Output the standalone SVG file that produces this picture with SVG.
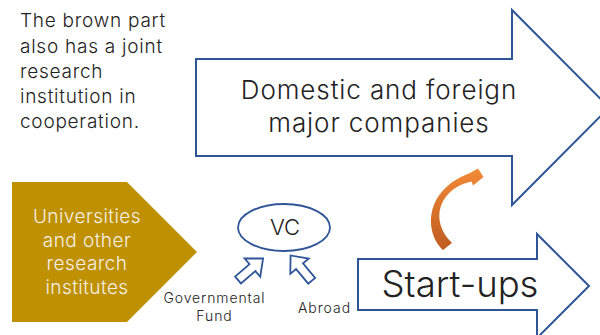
<svg xmlns="http://www.w3.org/2000/svg" width="600" height="335" viewBox="0 0 600 335">
<defs>
<style>
.t{font-family:Inter,"Noto Sans",sans-serif;font-weight:300;fill:#222;}
.blue{fill:#fff;stroke:#2F5597;stroke-width:2;stroke-linejoin:miter;}
.small{fill:#fff;stroke:#2F5597;stroke-width:1.8;stroke-linejoin:miter;}
</style>
<linearGradient id="og" x1="0" y1="0" x2="0" y2="1">
<stop offset="0" stop-color="#F28A36"/>
<stop offset="1" stop-color="#BE5B1F"/>
</linearGradient>
<path id="sa" d="M0,-4.5 L19,-4.5 L19,-12 L33,0 L19,12 L19,4.5 L0,4.5 Z"/>
</defs>
<rect width="600" height="335" fill="#fff"/>
<g id="note">
<text class="t" font-size="19" fill="#333" letter-spacing="0.75"><tspan x="20" y="27">The brown part</tspan><tspan x="20" y="52.5">also has a joint</tspan><tspan x="20" y="78">research</tspan><tspan x="20" y="103">institution in</tspan><tspan x="20" y="128">cooperation.</tspan></text>
</g>
<g id="companies">
<path class="blue" d="M196,59 L512,59 L512,10 L609,107.5 L512,205 L512,156 L196,156 Z"/>
<text class="t" font-size="26" text-anchor="middle" letter-spacing="0.9" x="379" y="99">Domestic and foreign</text>
<text class="t" font-size="26" text-anchor="middle" letter-spacing="0.9" x="379" y="132">major companies</text>
</g>
<g id="universities">
<path d="M12,182 L127,182 L197,252 L127,322 L12,322 Z" fill="#BF9000"/>
<text class="t" font-size="19" text-anchor="middle" letter-spacing="0.45" style="fill:#F4F0E6"><tspan x="87" y="223">Universities</tspan><tspan x="87" y="246.5">and other</tspan><tspan x="87" y="270">research</tspan><tspan x="87" y="294">institutes</tspan></text>
</g>
<g id="vc">
<ellipse class="small" cx="284" cy="227.5" rx="46" ry="23.5"/>
<text class="t" font-size="22" text-anchor="middle" x="285" y="235">VC</text>
</g>
<g id="startups">
<path class="blue" d="M358,259 L537,259 L537,234 L589,286 L537,338 L537,310 L358,310 Z"/>
<text class="t" font-size="36.5" text-anchor="middle" x="460" y="297">Start-ups</text>
</g>
<g id="gov">
<text class="t" font-size="14" text-anchor="middle" letter-spacing="0.9"><tspan x="214.5" y="303">Governmental</tspan><tspan x="214.5" y="321">Fund</tspan></text>
</g>
<g id="abroad">
<text class="t" font-size="14" text-anchor="middle" letter-spacing="1" x="324.5" y="313">Abroad</text>
</g>
<g id="connectors">
<use href="#sa" class="small" transform="translate(238,280) rotate(-40.6)"/>
<use href="#sa" class="small" transform="translate(311.7,280.8) rotate(-129.8)"/>
<path d="M443,250 C424,232 424,190 470,173 L478,168.5 L483.5,177 L473,185.5 L471.7,181.5 C440,188 428,220 452,243 Z" fill="url(#og)"/>
</g>
</svg>
